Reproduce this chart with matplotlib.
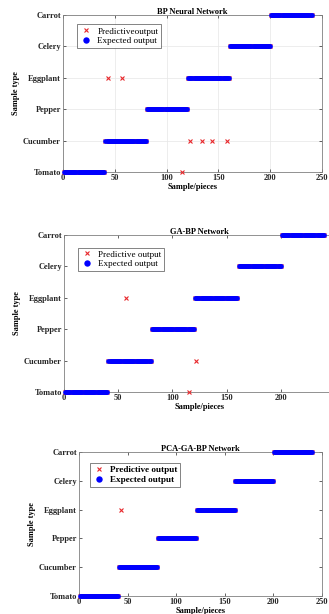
import numpy as np
import matplotlib
matplotlib.use('Agg')
import matplotlib.pyplot as plt

plt.rcParams['font.family'] = 'Liberation Serif'
plt.rcParams['font.size'] = 6

classes = ['Tomato', 'Cucumber', 'Pepper', 'Eggplant', 'Celery', 'Carrot']
samples_per_class = [40, 40, 40, 40, 40, 40]

# misclassified samples: sample number -> predicted class (1 = Tomato ... 6 = Carrot)
bp_wrong = {43: 4, 57: 4, 115: 1, 123: 2, 134: 2, 144: 2, 158: 2}
ga_wrong = {57: 4, 115: 1, 122: 2}
pca_wrong = {43: 4}

titles = ['BP Neural Network', 'GA-BP Network', 'PCA-GA-BP Network']
legend_names = ['Predictiveoutput', 'Predictive output', 'Predictive output']

expected = np.repeat(np.arange(1, len(classes) + 1), samples_per_class)
samples = np.arange(1, len(expected) + 1)

fig = plt.figure(figsize=(3.29, 6.14), dpi=100)

boxes = [[0.1915, 0.7199, 0.787, 0.2557],
         [0.1945, 0.3616, 0.8237, 0.2557],
         [0.2401, 0.0293, 0.7386, 0.2345]]
leg_anchor = [(0.055, 0.94), (0.05, 0.92), (0.045, 0.925)]

for i, wrong in enumerate([bp_wrong, ga_wrong, pca_wrong]):
    ax = fig.add_axes(boxes[i])
    predicted = expected.copy()
    for s, c in wrong.items():
        predicted[s - 1] = c

    ax.plot(samples, predicted, 'x', color='#e8262a', markersize=2.8,
            markeredgewidth=0.8, label=legend_names[i], clip_on=False, zorder=3)
    ax.plot(samples, expected, 'o', color='#0000ff', markersize=3.4,
            markeredgewidth=0, label='Expected output', clip_on=False, zorder=4)

    ax.set_xlim(0, 250)
    ax.set_ylim(1, 6)
    ax.set_xticks([0, 50, 100, 150, 200, 250])
    ax.set_yticks(range(1, len(classes) + 1))
    ax.set_yticklabels(classes)
    for lab in ax.get_xticklabels() + ax.get_yticklabels():
        lab.set_fontweight('bold')
    ax.tick_params(direction='in', length=2, width=0.5, pad=1.5,
                   top=True, right=True, colors='#262626', labelsize=6)
    for sp in ax.spines.values():
        sp.set_color('#808080')
        sp.set_linewidth(0.6)
    if i == 0:
        ax.grid(True, color='#e6e6e6', linewidth=0.5)
        ax.set_axisbelow(True)

    ax.set_title(titles[i], fontsize=6, fontweight='bold', pad=1)
    ax.set_xlabel('Sample/pieces', fontsize=6, fontweight='bold', labelpad=1)
    ax.set_ylabel('Sample type', fontsize=6, fontweight='bold', labelpad=2)

    leg = ax.legend(loc='upper left', bbox_to_anchor=leg_anchor[i],
                    frameon=True, fancybox=False,
                    edgecolor='#262626', borderpad=0.3, labelspacing=0.15,
                    handletextpad=0.5, handlelength=1.4, borderaxespad=0,
                    prop={'weight': 'bold' if i == 2 else 'normal', 'size': 6.6})
    leg.get_frame().set_linewidth(0.5)
    leg.legend_handles[0].set_markersize(2.8)
    leg.legend_handles[1].set_markersize(4.6)

plt.savefig('out.png', dpi=100)
